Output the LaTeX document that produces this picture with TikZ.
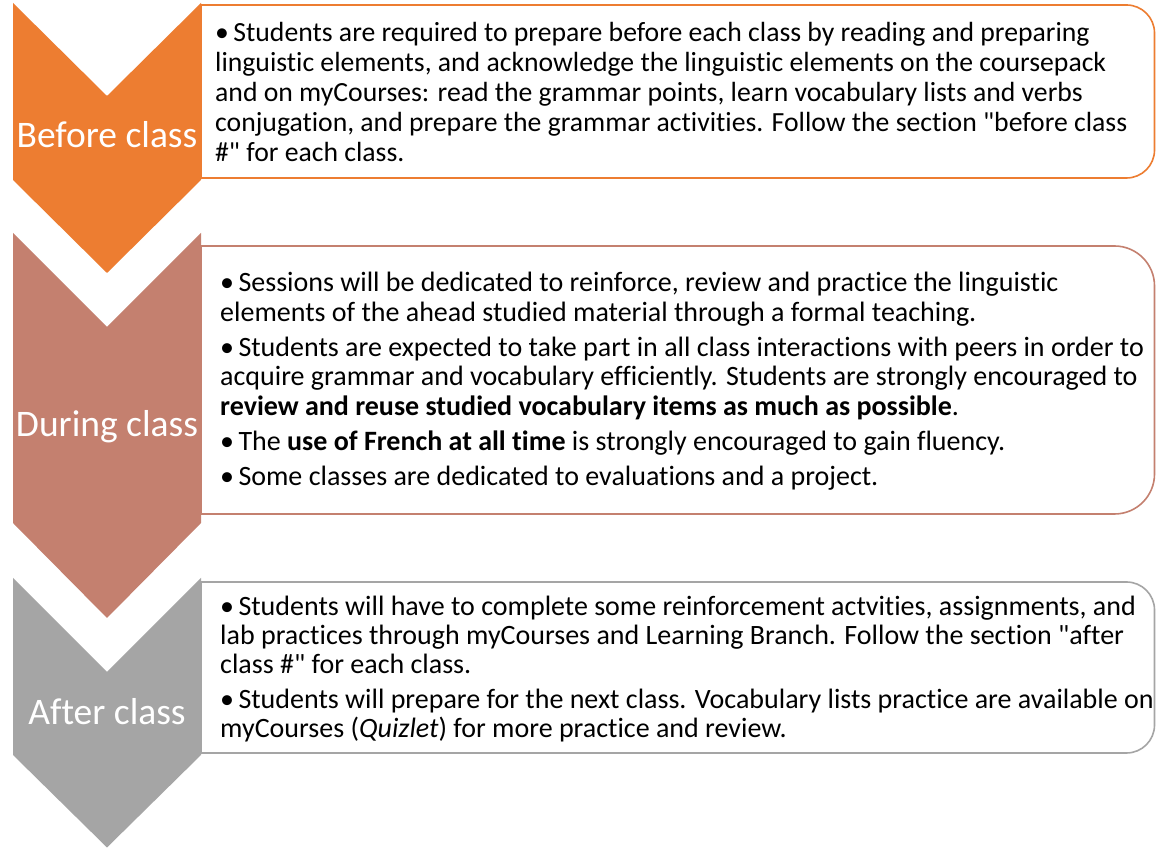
\documentclass[tikz,border=0pt]{standalone}
\usepackage{fontspec}
\setmainfont{Carlito}[Ligatures={TeXOff,NoCommon}]
\definecolor{corange}{HTML}{ED7D31}
\definecolor{cbrown}{HTML}{C4806F}
\definecolor{cgray}{HTML}{A5A5A5}
\newcommand{\bitem}[1]{\par\hangindent=12pt\hangafter=1\noindent\makebox[12pt][l]{•}\ #1}
\newcommand{\bodyfont}[2]{\fontsize{#1}{#2}\selectfont\setlength{\parskip}{6pt}}
\tikzset{
  boxshape/.style={fill=white, line width=1.6pt},
  lbl/.style={text=white, font=\fontsize{37.5}{42}\selectfont, anchor=base, inner sep=0pt},
  bodytext/.style={anchor=base west, inner sep=0pt, text=black}
}
\begin{document}
\begin{tikzpicture}[x=1pt,y=1pt]
\useasboundingbox (0,0) rectangle (1156,848);
\fill[white] (0,0) rectangle (1156,848);
% boxes
\draw[boxshape, draw=corange] (201,843) -- (1126.5,843) arc[start angle=90,end angle=0,radius=28] -- (1154.5,698) arc[start angle=0,end angle=-90,radius=28] -- (201,670) -- cycle;
\draw[boxshape, draw=cbrown] (201,602) -- (1114.5,602) arc[start angle=90,end angle=0,radius=40] -- (1154.5,374) arc[start angle=0,end angle=-90,radius=40] -- (201,334) -- cycle;
\draw[boxshape, draw=cgray] (201,266) -- (1126.5,266) arc[start angle=90,end angle=0,radius=28] -- (1154.5,123) arc[start angle=0,end angle=-90,radius=28] -- (201,95) -- cycle;
% chevrons
\fill[corange] (13,845) -- (107,752) -- (201,845) -- (201,668) -- (107,575) -- (13,668) -- cycle;
\fill[cbrown] (13,615) -- (107,521) -- (201,615) -- (201,325) -- (107,230) -- (13,325) -- cycle;
\fill[cgray] (13,270) -- (107,176) -- (201,270) -- (201,93) -- (107,0.5) -- (13,93) -- cycle;
% labels
\node[lbl] (before) at (107,700) {Before class};
\node[lbl] (during) at (107,411) {During class};
\node[lbl] (after) at (107,123) {After class};
% texts
\node[bodytext] (t1) at (215,806) {\parbox[t]{1000pt}{\raggedright\bodyfont{27.7}{30}%
\bitem{Students are required to prepare before each class by reading and preparing\\
linguistic elements, and acknowledge the linguistic elements on the coursepack\\
and on myCourses: read the grammar points, learn vocabulary lists and verbs\\
conjugation, and prepare the grammar activities. Follow the section "before class\\
\#" for each class.}}};
\node[bodytext] (t2) at (220,556) {\parbox[t]{1000pt}{\raggedright\bodyfont{28}{29.3}%
\bitem{Sessions will be dedicated to reinforce, review and practice the linguistic\\
elements of the ahead studied material through a formal teaching.}
\bitem{Students are expected to take part in all class interactions with peers in order to\\
acquire grammar and vocabulary efficiently. Students are strongly encouraged to\\
\textbf{review and reuse studied vocabulary items as much as possible}.}
\bitem{The \textbf{use of French at all time} is strongly encouraged to gain fluency.}
\bitem{Some classes are dedicated to evaluations and a project.}}};
\node[bodytext] (t3) at (220,232) {\parbox[t]{1000pt}{\raggedright\bodyfont{28}{29}%
\bitem{Students will have to complete some reinforcement actvities, assignments, and\\
lab practices through myCourses and Learning Branch. Follow the section "after\\
class \#" for each class.}
\bitem{Students will prepare for the next class. Vocabulary lists practice are available on\\
myCourses (\textit{Quizlet}) for more practice and review.}}};
\end{tikzpicture}
\end{document}
